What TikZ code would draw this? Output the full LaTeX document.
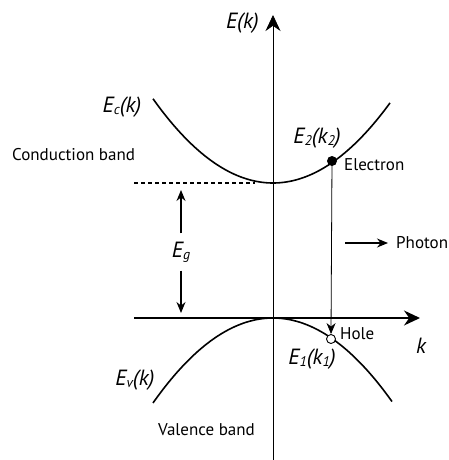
\documentclass[tikz,border=0pt]{standalone}
\usepackage{fontspec}
\setmainfont{PT Sans}
\usetikzlibrary{arrows.meta}
\newcommand{\lowsub}[1]{\raisebox{-0.2ex}{\fontsize{14}{14}\selectfont #1}}
\begin{document}
\begin{tikzpicture}[x=1pt,y=-1pt,
        lbl/.style={font=\fontsize{17}{19}\selectfont, inner sep=0pt},
        mlbl/.style={font=\fontsize{22}{25}\selectfont\itshape, inner sep=0pt},
        band/.style={line width=1.6pt},
        tip/.style={-{Stealth[length=11pt,width=9pt]}},
        axtip/.style={-{Stealth[length=16pt,width=15pt]}}]
    \useasboundingbox (0,0) rectangle (448,460);
    % axes
    \coordinate (kstart) at (134,318);
    \coordinate (kend) at (420,318);
    \coordinate (Ebot) at (273,460);
    \coordinate (Etop) at (273,15);
    \draw[line width=0.8pt,axtip] (Ebot)--(Etop);
    \draw[line width=1.6pt,axtip] (kstart)--(kend);
    \node[mlbl,anchor=east] (Ek) at (259,23) {E(k)};
    \node[mlbl] (k) at (421,346) {k};
    % bands
    \draw[band,domain=-120:117,samples=80,smooth,variable=\x]
        plot ({273+\x},{183-0.585*(\x/10)^2});
    \draw[band,domain=-120:119,samples=80,smooth,variable=\x]
        plot ({273+\x},{318+0.59*(\x/10)^2});
    \coordinate (cmin) at (255,183);
    \coordinate (dleft) at (134,183);
    \draw[line width=1.2pt,dash pattern=on 4pt off 3pt] (dleft)--(cmin);
    \node[mlbl] (Ec) at (122,107) {E\lowsub{c}(k)};
    \node[mlbl] (Ev) at (135,380) {E\lowsub{v}(k)};
    \node[lbl,anchor=west] (cb) at (12,155) {Conduction band};
    \node[lbl,anchor=west] (vb) at (158,430) {Valence band};
    % gap
    \coordinate (gtop) at (181,190);
    \coordinate (gbot) at (181,313);
    \node[mlbl,minimum height=37pt] (Eg) at (181,252) {E\lowsub{g}};
    \draw[line width=1.4pt,tip] (Eg.north)--(gtop);
    \draw[line width=1.4pt,tip] (Eg.south)--(gbot);
    % transition
    \node[circle,fill,inner sep=0pt,minimum size=10pt] (e2) at (332,161) {};
    \node[circle,draw,fill=white,line width=0.9pt,inner sep=0pt,minimum size=9pt] (e1) at (331,339) {};
    \draw[line width=0.8pt,tip] (e2.center)--(e1.north);
    \node[mlbl] (E2) at (317,138) {E\lowsub{2}(k\lowsub{2})};
    \node[mlbl] (E1) at (312,359) {E\lowsub{1}(k\lowsub{1})};
    \node[lbl,anchor=west] (el) at (344,165) {Electron};
    \node[lbl,anchor=west] (hole) at (340,334) {Hole};
    \coordinate (phstart) at (345,243);
    \node[lbl,anchor=west,inner xsep=8pt] (photon) at (388,243) {Photon};
    \draw[line width=1.2pt,tip] (phstart)--(photon.west);
\end{tikzpicture}
\end{document}
